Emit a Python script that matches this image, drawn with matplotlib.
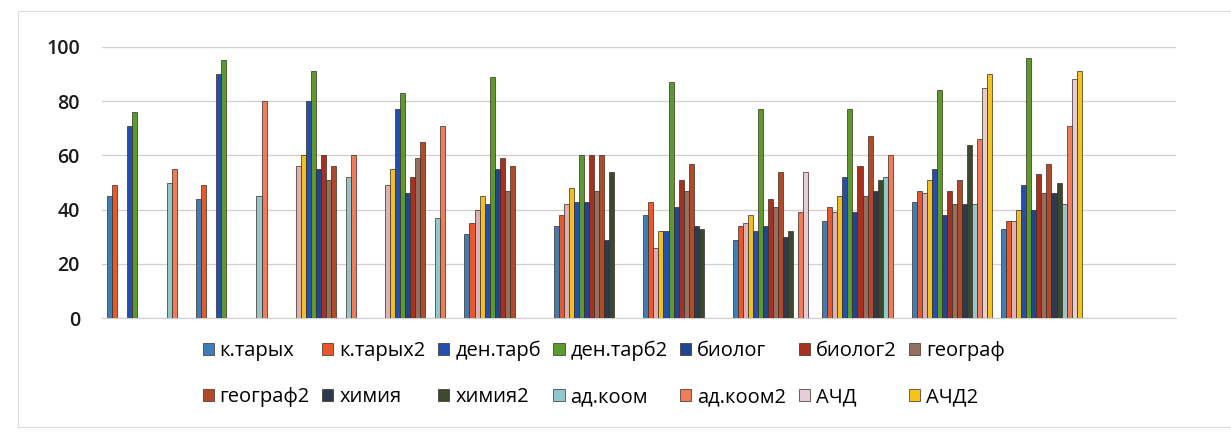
import numpy as np
import matplotlib
matplotlib.use("Agg")
import matplotlib.pyplot as plt
from matplotlib.patches import Rectangle

plt.rcParams['font.family'] = ['Open Sans', 'DejaVu Sans']

nan = np.nan

# 11 groups with data, 12th slot is empty on the chart
n_groups = 12

# series in bar order inside each group (16 bars per slot)
labels = ["к.тарых", "к.тарых2", "_s3", "_s4", "ден.тарб", "ден.тарб2",
          "биолог", "биолог2", "географ", "географ2", "химия", "химия2",
          "ад.коом", "ад.коом2", "АЧД", "АЧД2"]

k_taryh = [45, 44, nan, nan, 31, 34, 38, 29, 36, 43, 33]
k_taryh2 = [49, 49, nan, nan, 35, 38, 43, 34, 41, 47, 36]
s3 = [nan, nan, 56, 49, 40, 42, 26, 35, 39, 46, 36]
s4 = [nan, nan, 60, 55, 45, 48, 32, 38, 45, 51, 40]
den_tarb = [71, 90, 80, 77, 42, 43, 32, 32, 52, 55, 49]
den_tarb2 = [76, 95, 91, 83, 89, 60, 87, 77, 77, 84, 96]
biolog = [nan, nan, 55, 46, 55, 43, 41, 34, 39, 38, 40]
biolog2 = [nan, nan, 60, 52, 59, 60, 51, 44, 56, 47, 53]
geograf = [nan, nan, 51, 59, 47, 47, 47, 41, 45, 42, 46]
geograf2 = [nan, nan, 56, 65, 56, 60, 57, 54, 67, 51, 57]
himiya = [nan, nan, nan, nan, nan, 29, 34, 30, 47, 42, 46]
himiya2 = [nan, nan, nan, nan, nan, 54, 33, 32, 51, 64, 50]
ad_koom = [50, 45, 52, 37, nan, nan, nan, nan, 52, 42, 42]
ad_koom2 = [55, 80, 60, 71, nan, nan, nan, 39, 60, 66, 71]
achd = [nan, nan, nan, nan, nan, nan, nan, 54, nan, 85, 88]
achd2 = [nan, nan, nan, nan, nan, nan, nan, nan, nan, 90, 91]

series = [k_taryh, k_taryh2, s3, s4, den_tarb, den_tarb2, biolog, biolog2,
          geograf, geograf2, himiya, himiya2, ad_koom, ad_koom2, achd, achd2]

colors = ["#3d7db8", "#e8582c", "#dcb0b4", "#f0c022", "#2350b0", "#5c9a2c",
          "#1f4690", "#a8301f", "#93705f", "#b04a28", "#2c3a52", "#3b4a2e",
          "#92c8cc", "#f07c5a", "#e4cdd6", "#f5c418"]

fig = plt.figure(figsize=(12.31, 4.42), dpi=100)
ax = fig.add_axes([0.083, 0.28, 0.872, 0.614])

x = np.arange(n_groups)
nser = len(series)
w = 0.9 / nser
for i, vals in enumerate(series):
    v = np.full(n_groups, nan)
    v[:len(vals)] = vals
    ax.bar(x + (i - (nser - 1) / 2) * w, v, width=w, color=colors[i],
           edgecolor="#3a2a22", linewidth=0.5, label=labels[i], zorder=3)

ax.set_xlim(-0.5, n_groups - 0.5)
ax.set_ylim(0, 100)
ax.set_yticks([0, 20, 40, 60, 80, 100])
ax.yaxis.grid(True, color="#cfcfcf", linewidth=0.9, zorder=0)
ax.set_xticks([])
for s in ["top", "right", "left"]:
    ax.spines[s].set_visible(False)
ax.spines["bottom"].set_color("#cfcfcf")
ax.tick_params(axis="y", length=0, pad=16, labelsize=14, labelcolor="#1a1a1a")
for t in ax.get_yticklabels():
    t.set_fontweight("semibold")

# legend: two rows of seven, filled row by row
handles, labs = ax.get_legend_handles_labels()
order = []
for c in range(7):
    order += [c, c + 7]
leg = fig.legend([handles[k] for k in order], [labs[k] for k in order],
                 ncol=7, loc="upper left", bbox_to_anchor=(0.158, 0.0, 0.665, 0.248),
                 mode="expand", frameon=False, fontsize=14.5, handlelength=0.55,
                 handleheight=0.55, handletextpad=0.3, labelspacing=1.3,
                 borderaxespad=0)

# faint chart-area border
fig.patches.append(Rectangle((0.015, 0.035), 0.99, 0.94, transform=fig.transFigure,
                             fill=False, edgecolor="#dddddd", linewidth=0.8))

fig.savefig("out.png", dpi=100, facecolor="white")
